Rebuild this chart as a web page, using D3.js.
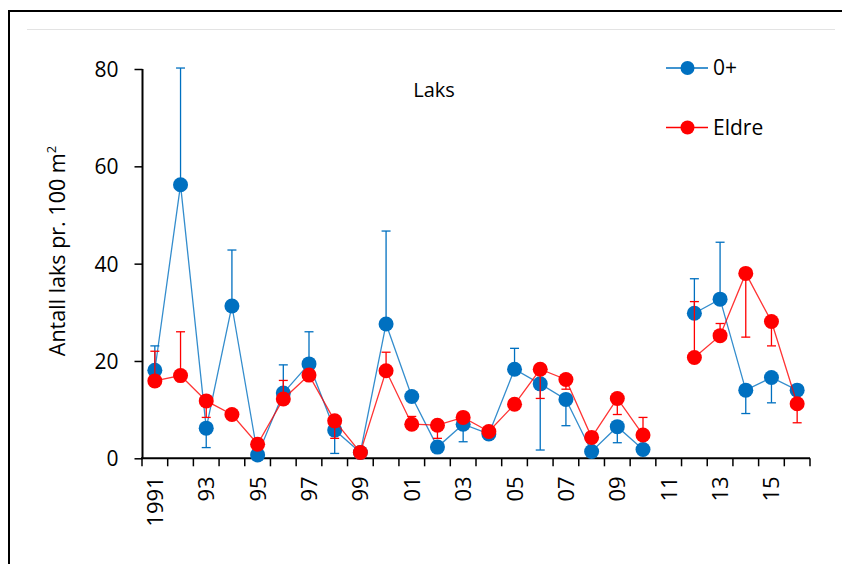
<!DOCTYPE html>
<html>
<head>
<meta charset="utf-8">
<script src="https://cdn.jsdelivr.net/npm/d3@7"></script>
<style>
  body { margin: 0; background: #fff; }
  svg { display: block; }
  text { font-family: "Open Sans", "DejaVu Sans", sans-serif; fill: #000; }
</style>
</head>
<body>
<svg id="chart" width="842" height="564"></svg>
<script>
// ---- data ----
const years = [1991,1992,1993,1994,1995,1996,1997,1998,1999,2000,2001,2002,2003,2004,2005,2006,2007,2008,2009,2010,2011,2012,2013,2014,2015,2016];
const tickLabels = ["1991","93","95","97","99","01","03","05","07","09","11","13","15"];
const yTicks = [0,20,40,60,80];
const seriesNames = ["0+","Eldre"];
const values0 = [18.1,56.2,6.2,31.3,0.7,13.4,19.4,5.8,1.2,27.6,12.7,2.3,7.0,5.0,18.3,15.3,12.1,1.4,6.5,1.8,null,29.8,32.7,14.0,16.6,14.0];
const valuesEldre = [15.9,17.0,11.8,9.0,2.9,12.2,17.1,7.7,1.2,18.0,7.0,6.8,8.4,5.5,11.1,18.3,16.2,4.3,12.3,4.8,null,20.7,25.2,38.0,28.1,11.2];
// error bar end values (cap position), null = no bar shown
const errEnd0 = [23.1,80.2,2.2,42.8,null,19.2,26.0,1.0,null,46.7,null,null,3.4,null,22.6,1.7,6.7,null,3.2,null,null,36.9,44.4,9.2,11.4,null];
const errEndEldre = [22.0,26.0,8.4,null,null,16.0,null,4.1,null,21.8,8.6,4.1,null,null,null,12.3,14.2,null,9.0,8.4,null,32.2,27.7,24.9,23.1,7.3];
const colors = ["#0070C0","#FF0000"];

// ---- layout ----
const svg = d3.select("#chart");
const x = d3.scaleBand().domain(years).range([142, 810]).padding(0);
const y = d3.scaleLinear().domain([0, 80]).range([458.3, 69]);

// frame
svg.append("path").attr("d", "M9,564 V11 H842").attr("fill", "none").attr("stroke", "#000").attr("stroke-width", 2);
svg.append("line").attr("x1", 27).attr("x2", 835).attr("y1", 29.5).attr("y2", 29.5).attr("stroke", "#e3e3e3").attr("stroke-width", 1);

// y axis
const yAxis = svg.append("g").attr("transform", "translate(142.5,0)")
  .call(d3.axisLeft(y).tickValues(yTicks).tickSize(8).tickPadding(16).tickFormat(d3.format("d")));
yAxis.select(".domain").attr("stroke", "#000").attr("stroke-width", 2).attr("d", `M0,${y(0)}V${y(80)}`);
yAxis.selectAll(".tick line").attr("stroke", "#000").attr("stroke-width", 1.5);
yAxis.selectAll(".tick text").style("font-size", "21px").style("font-family", "Open Sans, sans-serif").attr("dy", "0.36em");

// x axis
const labelMap = {};
years.forEach((yr, i) => { if (i % 2 === 0) labelMap[yr] = tickLabels[i / 2]; });
const xg = svg.append("g").attr("transform", `translate(0,${y(0)})`);
xg.append("line").attr("x1", x.range()[0] - 1).attr("x2", x.range()[1]).attr("y1", 0).attr("y2", 0)
  .attr("stroke", "#000").attr("stroke-width", 2);
const boundaries = years.map(yr => x(yr)).concat([x.range()[1]]);
xg.selectAll("line.tk").data(boundaries).enter().append("line").attr("class", "tk")
  .attr("x1", d => d).attr("x2", d => d).attr("y1", 0).attr("y2", 8)
  .attr("stroke", "#000").attr("stroke-width", 1.5);
xg.selectAll("text.xl").data(years.filter(yr => labelMap[yr])).enter().append("text").attr("class", "xl")
  .attr("transform", d => `translate(${x(d) + x.bandwidth() / 2 + 8},18) rotate(-90)`)
  .attr("text-anchor", "end")
  .style("font-size", "22px")
  .text(d => labelMap[d]);

// y label
svg.append("text")
  .attr("transform", "translate(65,251) rotate(-90)")
  .attr("text-anchor", "middle")
  .style("font-size", "21.5px")
  .html('Antall laks pr. 100 m<tspan dy="-9" style="font-size:13px">2</tspan>');

// title
svg.append("text").attr("x", 434).attr("y", 97).attr("text-anchor", "middle").style("font-size", "20px").text("Laks");

// series
const cx = yr => x(yr) + x.bandwidth() / 2;
const allSeries = [
  { name: seriesNames[0], vals: values0, err: errEnd0, color: colors[0] },
  { name: seriesNames[1], vals: valuesEldre, err: errEndEldre, color: colors[1] }
];
const line = d3.line().defined(d => d.v != null).x(d => cx(d.yr)).y(d => y(d.v));
allSeries.forEach(s => {
  const pts = years.map((yr, i) => ({ yr, v: s.vals[i], e: s.err[i] }));
  const g = svg.append("g");
  // error bars
  pts.filter(p => p.v != null && p.e != null).forEach(p => {
    g.append("line").attr("x1", cx(p.yr)).attr("x2", cx(p.yr)).attr("y1", y(p.v)).attr("y2", y(p.e))
      .attr("stroke", s.color).attr("stroke-width", 1.3);
    g.append("line").attr("x1", cx(p.yr) - 4.5).attr("x2", cx(p.yr) + 4.5).attr("y1", y(p.e)).attr("y2", y(p.e))
      .attr("stroke", s.color).attr("stroke-width", 1.3);
  });
  g.append("path").datum(pts).attr("d", line).attr("fill", "none").attr("stroke", s.color).attr("stroke-width", 1.3).attr("stroke-opacity", 0.8);
  g.selectAll("circle").data(pts.filter(p => p.v != null)).enter().append("circle")
    .attr("cx", p => cx(p.yr)).attr("cy", p => y(p.v)).attr("r", 7.5).attr("fill", s.color);
});

// legend
const legY = [68, 127.5];
allSeries.forEach((s, i) => {
  const lg = svg.append("g");
  lg.append("line").attr("x1", 666).attr("x2", 708).attr("y1", legY[i]).attr("y2", legY[i]).attr("stroke", s.color).attr("stroke-width", 1.3);
  lg.append("circle").attr("cx", 687.5).attr("cy", legY[i]).attr("r", 7).attr("fill", s.color);
  lg.append("text").attr("x", 713).attr("y", legY[i] + 7).style("font-size", "21px").text(s.name);
});
</script>
</body>
</html>
